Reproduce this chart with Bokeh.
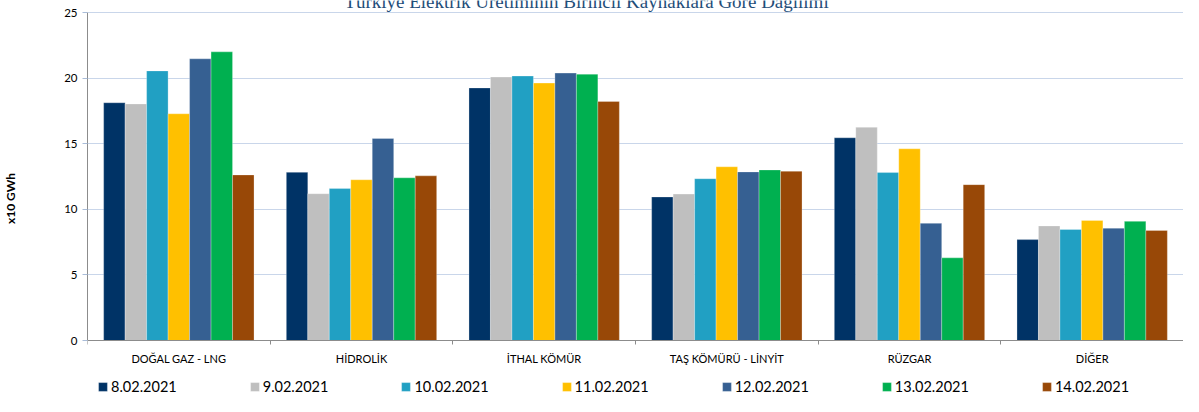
from bokeh.plotting import figure
from bokeh.models import (ColumnDataSource, Range1d, FixedTicker, Legend, LegendItem, Label)
from bokeh.transform import dodge
from bokeh.embed import file_html
from bokeh.resources import INLINE

categories = ["DOĞAL GAZ - LNG", "HİDROLİK", "İTHAL KÖMÜR", "TAŞ KÖMÜRÜ - LİNYİT", "RÜZGAR", "DİĞER"]
dates = ["8.02.2021", "9.02.2021", "10.02.2021", "11.02.2021", "12.02.2021", "13.02.2021", "14.02.2021"]
v_0802 = [18.12, 12.82, 19.25, 10.94, 15.45, 7.69]
v_0902 = [18.03, 11.19, 20.08, 11.16, 16.25, 8.73]
v_1002 = [20.55, 11.58, 20.16, 12.33, 12.80, 8.46]
v_1102 = [17.28, 12.25, 19.62, 13.24, 14.61, 9.15]
v_1202 = [21.47, 15.40, 20.38, 12.85, 8.93, 8.56]
v_1302 = [22.00, 12.40, 20.30, 13.00, 6.30, 9.08]
v_1402 = [12.62, 12.55, 18.22, 12.90, 11.88, 8.39]
series = [v_0802, v_0902, v_1002, v_1102, v_1202, v_1302, v_1402]
colors = ["#003366", "#bfbfbf", "#21a0c3", "#ffc000", "#366092", "#00b050", "#984807"]
y_ticks = [0, 5, 10, 15, 20, 25]
title_text = "Türkiye Elektrik Üretiminin Birincil Kaynaklara Göre Dağılımı"
y_label = "x10 GWh"

n = len(categories)
data = {"xc": [i + 0.5 for i in range(n)]}
for j, s in enumerate(series):
    data[f"s{j}"] = s
src = ColumnDataSource(data)

W, H = 1183, 396
FL = 85
frame_h = H
top_px, zero_px = 12, 340            # canvas rows of the values 25 and 0
ppu = (zero_px - top_px) / 25.0      # pixels per unit
y_min = -(H - zero_px) / ppu         # room under the axis for labels and legend
y_max = 25 + top_px / ppu            # room over the top for the title

p = figure(width=W, height=H, output_backend="svg", toolbar_location=None,
           x_range=Range1d(0, n), y_range=Range1d(y_min, y_max),
           min_border_left=FL, min_border_right=0, min_border_top=0, min_border_bottom=0)
p.outline_line_color = None
p.background_fill_color = "white"

bw = 0.1176
items = []
for j in range(len(series)):
    r = p.vbar(x=dodge("xc", (j - 3) * bw, range=p.x_range), top=f"s{j}", bottom=0, width=bw,
               source=src, fill_color=colors[j], line_color="white", line_alpha=0.35, line_width=0.8)
    items.append(LegendItem(label=dates[j], renderers=[r]))

# x axis, pinned at value 0
p.xaxis.fixed_location = 0
p.xaxis.ticker = FixedTicker(ticks=data["xc"], minor_ticks=list(range(n + 1)))
p.xaxis.major_label_overrides = {x: c for x, c in zip(data["xc"], categories)}
p.xaxis.major_tick_line_color = None
p.xaxis.major_tick_in = 0
p.xaxis.major_tick_out = 0
p.xaxis.minor_tick_in = 0
p.xaxis.minor_tick_out = 4
p.xaxis.minor_tick_line_color = "#8c8c8c"
p.xaxis.axis_line_color = "#8c8c8c"
p.xaxis.major_label_standoff = 7
p.xaxis.major_label_text_font = "Lato"
p.xaxis.major_label_text_font_size = "11px"
p.xaxis.major_label_text_color = "#000000"

# y axis
p.yaxis.bounds = (0, 25)
p.yaxis.ticker = FixedTicker(ticks=y_ticks)
p.yaxis.minor_tick_line_color = None
p.yaxis.major_tick_in = 0
p.yaxis.major_tick_out = 5
p.yaxis.major_tick_line_color = "#a9bcd8"
p.yaxis.axis_line_color = "#8c8c8c"
p.yaxis.major_label_standoff = 5
p.yaxis.major_label_text_font = "Lato"
p.yaxis.major_label_text_font_size = "11.5px"
p.yaxis.major_label_text_color = "#000000"
p.yaxis.axis_label = y_label
p.yaxis.axis_label_text_font = "Lato"
p.yaxis.axis_label_text_font_size = "12px"
p.yaxis.axis_label_text_font_style = "bold"
p.yaxis.axis_label_text_color = "#000000"
p.yaxis.axis_label_text_align = "left"
p.yaxis.axis_label_standoff = 43

p.xgrid.grid_line_color = None
p.ygrid.grid_line_color = "#c9d6ea"
p.ygrid.grid_line_width = 1

legend = Legend(items=items, orientation="horizontal", location=(10, 1),
                glyph_width=11, glyph_height=11, label_height=14, label_standoff=3,
                spacing=72, padding=0, margin=0, border_line_color=None,
                background_fill_alpha=0,
                label_text_font="Lato", label_text_font_size="14.5px", label_text_color="#000000")
p.add_layout(legend, "center")

title = Label(x=584 - FL, y=frame_h - 1, x_units="screen", y_units="screen", text=title_text,
              text_align="center", text_baseline="alphabetic", text_font="Liberation Serif",
              text_font_size="19px", text_color="#1f4e79")
p.add_layout(title)

open("out.html", "w").write(file_html(p, INLINE))
